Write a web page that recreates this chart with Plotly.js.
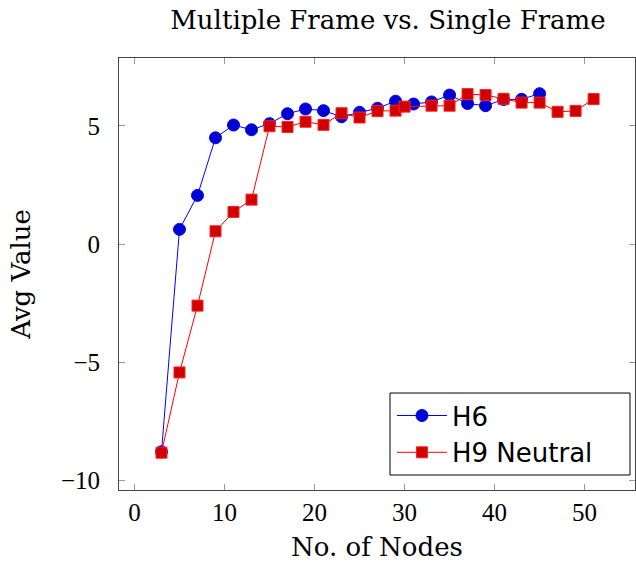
<!DOCTYPE html>
<html><head><meta charset="utf-8">
<script src="https://cdn.plot.ly/plotly-3.0.1.min.js"></script>
<style>body{margin:0;background:#fff}#chart{width:636px;height:567px}</style>
</head><body><div id="chart"></div>
<script>
const h6X = [3,5,7,9,11,13,15,17,19,21,23,25,27,29,31,33,35,37,39,41,43,45];
const h6Y = [-8.8,0.62,2.06,4.5,5.04,4.84,5.1,5.52,5.72,5.65,5.39,5.58,5.75,6.05,5.93,6.02,6.31,5.95,5.86,6.12,6.13,6.37];
const h9X = [3,5,7,9,11,13,15,17,19,21,23,25,27,29,30,33,35,37,39,41,43,45,47,49,51];
const h9Y = [-8.84,-5.44,-2.61,0.54,1.36,1.88,4.99,4.96,5.18,5.05,5.54,5.36,5.63,5.65,5.82,5.86,5.86,6.35,6.31,6.15,5.99,5.99,5.6,5.64,6.14];
const xTicks = [0,10,20,30,40,50];
const yTicks = [-10,-5,0,5];
const yTickText = ['\u221210','\u22125','0','5'];

const serif = 'DejaVu Serif, serif';
const tickSerif = 'Liberation Serif, serif';
const traces = [
  {x:h6X, y:h6Y, name:'H6', mode:'lines+markers', type:'scatter',
   line:{color:'#0000ff', width:1},
   marker:{symbol:'circle', size:12, color:'#0000d0', line:{color:'#0000ff', width:1}}},
  {x:h9X, y:h9Y, name:'H9 Neutral', mode:'lines+markers', type:'scatter',
   line:{color:'#ff0000', width:1},
   marker:{symbol:'square', size:11, color:'#d00000', line:{color:'#ff2020', width:1}}}
];
const axisCommon = {showgrid:false, zeroline:false, showline:true, linecolor:'#444', linewidth:1,
  mirror:'ticks', ticks:'inside', ticklen:6, tickcolor:'#999', tickwidth:1,
  tickfont:{family:tickSerif, size:25, color:'#000'}};
const layout = {
  width:636, height:567,
  margin:{l:119, r:1, t:58, b:77},
  paper_bgcolor:'#fff', plot_bgcolor:'#fff',
  title:{text:'Multiple Frame vs. Single Frame', font:{family:serif, size:26, color:'#000'},
         x:0.61, xanchor:'center', y:0.965, yanchor:'middle'},
  xaxis:Object.assign({}, axisCommon, {range:[-1.72,55.6], tickvals:xTicks, ticklabelstandoff:0,
    title:{text:'No. of Nodes', font:{family:serif, size:26, color:'#000'}, standoff:12}}),
  yaxis:Object.assign({}, axisCommon, {range:[-10.42,7.88], tickvals:yTicks, ticktext:yTickText, ticklabelstandoff:13,
    title:{text:'Avg Value', font:{family:serif, size:26, color:'#000'}, standoff:22}}),
  showlegend:true,
  legend:{x:0.529, y:0.2266, xanchor:'left', yanchor:'top', bgcolor:'rgba(0,0,0,0)',
    borderwidth:0, font:{family:'DejaVu Sans, sans-serif', size:26, color:'#000'},
    itemwidth:50, tracegroupgap:0},
  shapes:[{type:'rect', xref:'paper', yref:'paper', x0:0.5252, x1:0.9903, y0:0.0347, y1:0.2245,
    line:{color:'#000', width:1}, fillcolor:'#fff', layer:'above'}]
};
Plotly.newPlot('chart', traces, layout, {displayModeBar:false, staticPlot:true});
</script></body></html>
